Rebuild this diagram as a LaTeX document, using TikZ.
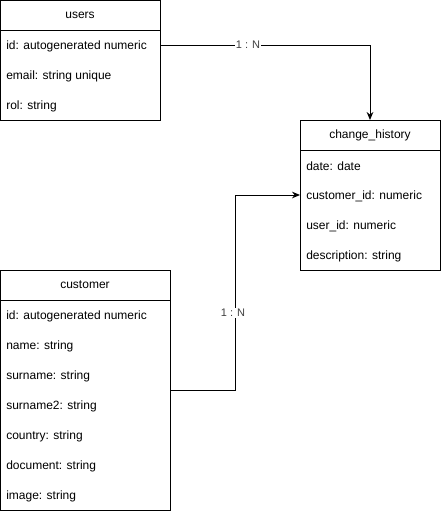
\documentclass[tikz,border=0pt]{standalone}
\usepackage{fontspec}
\setmainfont{Liberation Sans}
\usetikzlibrary{positioning,arrows.meta}

\tikzset{
  tblhead/.style={draw, line width=0.75pt, inner sep=0pt, outer sep=0pt, font=\fontsize{9}{11}\selectfont},
  tblbody/.style={draw, line width=0.75pt, inner sep=0pt, outer sep=0pt},
  field/.style={anchor=west, inner sep=0pt, font=\fontsize{9}{11}\selectfont},
  rel/.style={line width=0.75pt, -{Stealth[length=6pt,width=5pt]}},
  card/.style={fill=white, inner sep=1pt, text=black!75, font=\fontsize{8.25}{10}\selectfont}
}

\begin{document}
\begin{tikzpicture}[x=0.75pt, y=-0.75pt]
  \useasboundingbox (0,0) rectangle (441,511);

  %%%%% users %%%%%
  \node[tblhead, minimum width=120pt, minimum height=22.5pt] (users) at (80,15) {users};
  \node[tblbody, minimum width=120pt, minimum height=67.5pt, below=0pt of users] (usersbody) {};
  \node[field] (users-id) at (6,46) {id: autogenerated numeric};
  \node[field] (users-email) at (6,76) {email: string unique};
  \node[field] (users-rol) at (6,106) {rol: string};

  %%%%% change_history %%%%%
  \node[tblhead, minimum width=105pt, minimum height=22.5pt] (hist) at (370,135) {change\_history};
  \node[tblbody, minimum width=105pt, minimum height=90pt, below=0pt of hist] (histbody) {};
  \node[field] (hist-date) at (306,166) {date: date};
  \node[field] (hist-cust) at (306,196) {customer\_id: numeric};
  \node[field] (hist-user) at (306,226) {user\_id: numeric};
  \node[field] (hist-desc) at (306,256) {description: string};

  %%%%% customer %%%%%
  \node[tblhead, minimum width=127.5pt, minimum height=22.5pt] (cust) at (85,285) {customer};
  \node[tblbody, minimum width=127.5pt, minimum height=157.5pt, below=0pt of cust] (custbody) {};
  \node[field] (cust-id) at (6,316) {id: autogenerated numeric};
  \node[field] (cust-name) at (6,346) {name: string};
  \node[field] (cust-surname) at (6,376) {surname: string};
  \node[field] (cust-surname2) at (6,406) {surname2: string};
  \node[field] (cust-country) at (6,436) {country: string};
  \node[field] (cust-doc) at (6,466) {document: string};
  \node[field] (cust-image) at (6,496) {image: string};

  %%%%% relations %%%%%
  \coordinate (c1) at (usersbody.east |- 0,45);
  \coordinate (c2) at (custbody.east |- 0,390);
  \draw[rel] (c1) -| (hist.north);
  \draw[rel] (c2) -- (235,390) |- (histbody.west |- 0,195);
  \node[card] (card1) at (248,45) {1 : N};
  \node[card] (card2) at (233,313) {1 : N};
\end{tikzpicture}
\end{document}
